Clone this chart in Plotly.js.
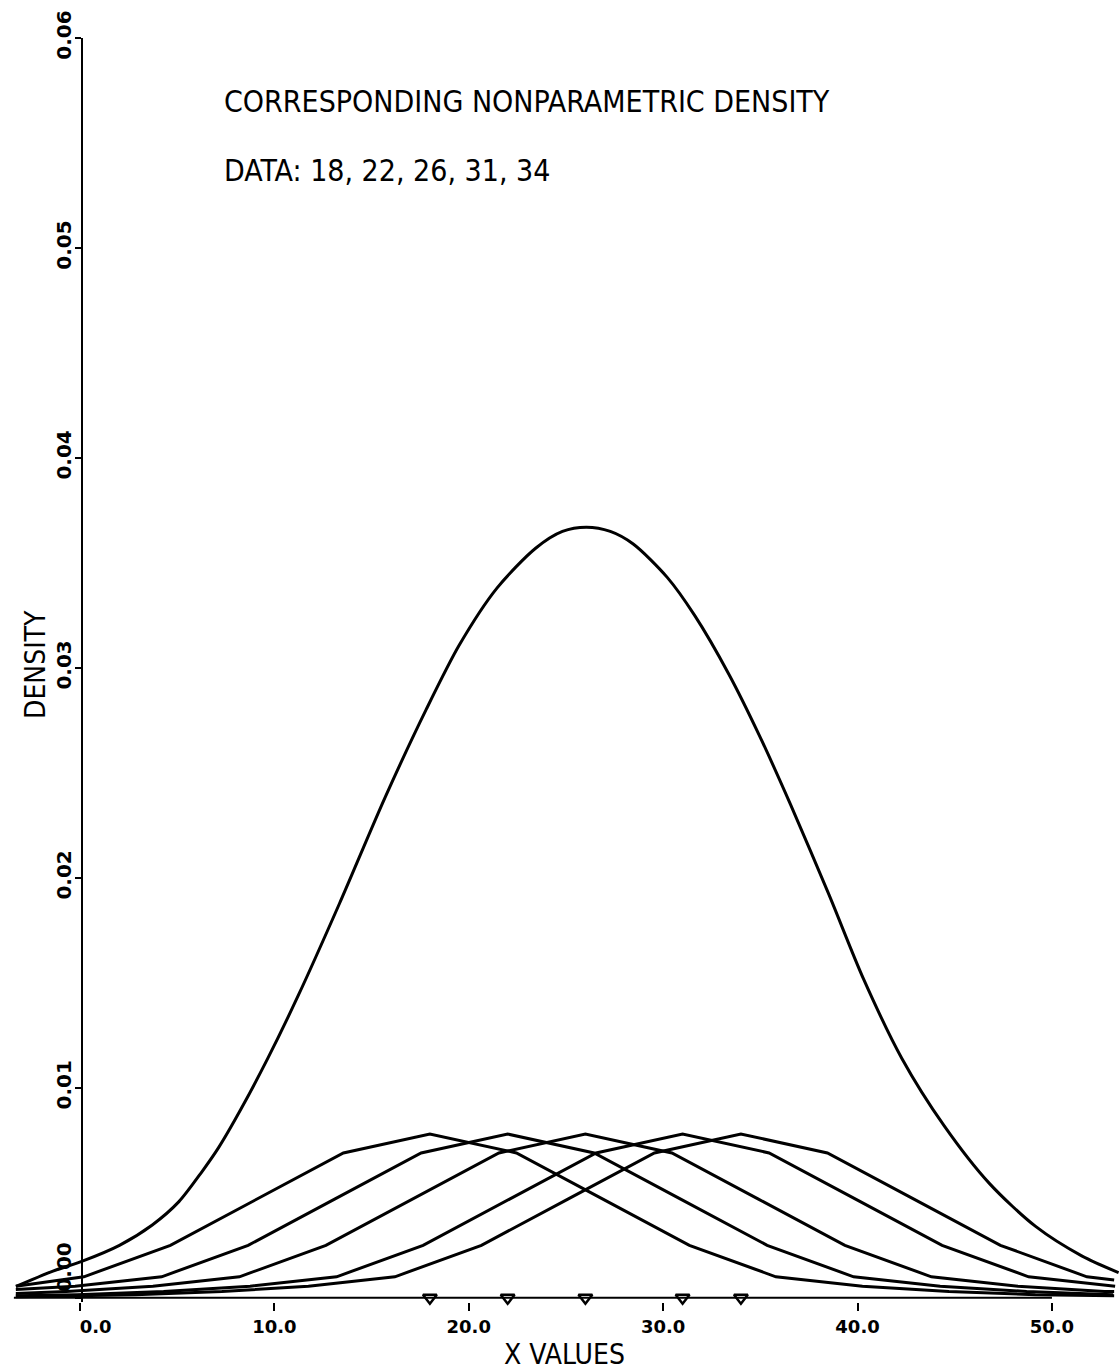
<!DOCTYPE html>
<html>
<head>
<meta charset="utf-8">
<script src="https://cdn.plot.ly/plotly-3.0.1.min.js"></script>
<style>
  html, body { margin: 0; padding: 0; background: #ffffff; }
  #chart { width: 1119px; height: 1371px; }
</style>
</head>
<body>
<div id="chart"></div>
<script>
// ---- data ----
const dataPoints = [18, 22, 26, 31, 34];
const rugY = [0, 0, 0, 0, 0];

// combined (nonparametric) density
const densX = [-3.29, -1.39, 0.19, 2.03, 3.72, 5.09, 6.27, 7.13, 8.29, 9.66, 11.23, 13.35, 15.68, 17.80, 19.52, 21.45, 23.44, 24.82, 26.05, 27.28, 28.46, 30.22, 31.62, 33.38, 34.94, 36.55, 38.53, 40.30, 42.28, 44.45, 46.78, 49.16, 51.53, 53.43];
const densY = [0.00054, 0.00127, 0.00177, 0.00250, 0.00347, 0.00458, 0.00600, 0.00715, 0.00900, 0.01140, 0.01440, 0.01878, 0.02380, 0.02800, 0.03110, 0.03380, 0.03570, 0.03650, 0.03670, 0.03650, 0.03590, 0.03430, 0.03250, 0.02970, 0.02680, 0.02350, 0.01920, 0.01520, 0.01140, 0.00820, 0.00545, 0.00340, 0.00200, 0.00120];

// individual kernels, one per data value
const k18X = [-3.3, 0.2, 4.65, 9.1, 13.55, 18, 22.45, 26.9, 31.35, 35.8, 40.25, 44.7, 49.15, 53.2];
const k18Y = [0.00055, 0.0010, 0.0025, 0.0047, 0.0069, 0.0078, 0.0069, 0.0047, 0.0025, 0.0010, 0.00055, 0.0003, 0.00015, 0.0001];

const k22X = [-3.3, -0.25, 4.2, 8.65, 13.1, 17.55, 22, 26.45, 30.9, 35.35, 39.8, 44.25, 48.7, 53.15];
const k22Y = [0.0004, 0.00055, 0.0010, 0.0025, 0.0047, 0.0069, 0.0078, 0.0069, 0.0047, 0.0025, 0.0010, 0.00055, 0.0003, 0.00015];

const k26X = [-3.3, -0.7, 3.75, 8.2, 12.65, 17.1, 21.55, 26, 30.45, 34.9, 39.35, 43.8, 48.25, 52.7, 53.2];
const k26Y = [0.0002, 0.0003, 0.00055, 0.0010, 0.0025, 0.0047, 0.0069, 0.0078, 0.0069, 0.0047, 0.0025, 0.0010, 0.00055, 0.0003, 0.0003];

const k31X = [-3.3, -0.15, 4.3, 8.75, 13.2, 17.65, 22.1, 26.55, 31, 35.45, 39.9, 44.35, 48.8, 53.25];
const k31Y = [0.0001, 0.00015, 0.0003, 0.00055, 0.0010, 0.0025, 0.0047, 0.0069, 0.0078, 0.0069, 0.0047, 0.0025, 0.0010, 0.00055];

const k34X = [-3.3, -1.6, 2.85, 7.3, 11.75, 16.2, 20.65, 25.1, 29.55, 34, 38.45, 42.9, 47.35, 51.8, 53.2];
const k34Y = [0.00005, 0.00008, 0.00015, 0.0003, 0.00055, 0.0010, 0.0025, 0.0047, 0.0069, 0.0078, 0.0069, 0.0047, 0.0025, 0.0010, 0.00085];

// axes
const xTickVals = [0, 10, 20, 30, 40, 50];
const xTickText = ['\u00a0\u00a0\u00a0\u00a0\u00a00.0', '10.0', '20.0', '30.0', '40.0', '50.0'];
const yTickVals = [0, 0.01, 0.02, 0.03, 0.04, 0.05, 0.06];
const yTickText = ['\u00a0\u00a0\u00a0\u00a0\u00a0\u00a0\u00a0\u00a00.00', '0.01', '0.02', '0.03', '0.04', '0.05', '0.06'];
const xAxisStart = -3.4;
const xAxisEnd = 50;

const titleLine1 = 'CORRESPONDING NONPARAMETRIC DENSITY';
const titleLine2 = 'DATA: 18, 22, 26, 31, 34';
const xTitle = 'X VALUES';
const yTitle = 'DENSITY';

// ---- drawing ----
const narrow = '"Liberation Sans Narrow", "DejaVu Sans Condensed", "Roboto Condensed", "Liberation Sans", sans-serif';
const xTickFont = { family: '"DejaVu Sans", sans-serif', size: 18, color: '#000', weight: 'bold' };
const yTickFont = { family: '"DejaVu Sans", sans-serif', size: 20, color: '#000', weight: 'bold' };
const lineStyle = { color: '#000', width: 3 };

const kernels = [[k18X, k18Y], [k22X, k22Y], [k26X, k26Y], [k31X, k31Y], [k34X, k34Y]];
const traces = kernels.map(([xs, ys]) => ({
  type: 'scatter', mode: 'lines', x: xs, y: ys, line: lineStyle, hoverinfo: 'skip'
}));
traces.push({
  type: 'scatter', mode: 'lines', x: densX, y: densY,
  line: { color: '#000', width: 3, shape: 'spline', smoothing: 0.8 }, hoverinfo: 'skip'
});
traces.push({
  type: 'scatter', mode: 'markers', x: dataPoints, y: rugY, cliponaxis: false,
  marker: { symbol: 'triangle-down-open', size: 12, color: '#000', line: { color: '#000', width: 2.5 } },
  hoverinfo: 'skip'
});

const W = 1119, H = 1371;
const M = { l: 10, r: 0, t: 38, b: 69 };
const plotW = W - M.l - M.r, plotH = H - M.t - M.b;
const px2paperX = p => (p - M.l) / plotW;
const px2paperY = p => (H - M.b - p) / plotH;

const layout = {
  width: W, height: H,
  margin: M,
  paper_bgcolor: '#ffffff', plot_bgcolor: '#ffffff',
  showlegend: false,
  hovermode: false,
  xaxis: {
    range: [-3.6, 53.45],
    tickvals: xTickVals, ticktext: xTickText,
    ticks: 'outside', ticklen: 8, tickwidth: 2, tickcolor: '#000',
    showline: false, showgrid: false, zeroline: false,
    tickfont: xTickFont,
    title: { text: xTitle, font: { family: narrow, size: 28, color: '#000' }, standoff: 10 }
  },
  yaxis: {
    range: [-0.0002, 0.06],
    anchor: 'free', position: px2paperX(82),
    tickvals: yTickVals, ticktext: yTickText, tickangle: -90,
    ticks: 'outside', ticklen: 6, tickwidth: 2, tickcolor: '#000',
    ticklabelstandoff: -4,
    showline: true, linewidth: 2, linecolor: '#000',
    showgrid: false, zeroline: false,
    tickfont: yTickFont
  },
  shapes: [{
    type: 'line', xref: 'x', yref: 'y',
    x0: xAxisStart, x1: xAxisEnd, y0: 0, y1: 0,
    line: { color: '#000', width: 2 }
  }],
  annotations: [
    { xref: 'paper', yref: 'paper', x: px2paperX(222), y: px2paperY(101), xanchor: 'left', yanchor: 'middle',
      showarrow: false, text: titleLine1, font: { family: narrow, size: 30, color: '#000' } },
    { xref: 'paper', yref: 'paper', x: px2paperX(222), y: px2paperY(170), xanchor: 'left', yanchor: 'middle',
      showarrow: false, text: titleLine2, font: { family: narrow, size: 30, color: '#000' } },
    { xref: 'paper', yref: 'paper', x: px2paperX(35), y: px2paperY(665), xanchor: 'center', yanchor: 'middle',
      textangle: -90, showarrow: false, text: yTitle, font: { family: narrow, size: 28, color: '#000' } }
  ]
};

Plotly.newPlot('chart', traces, layout, { staticPlot: true, displayModeBar: false });
</script>
</body>
</html>
